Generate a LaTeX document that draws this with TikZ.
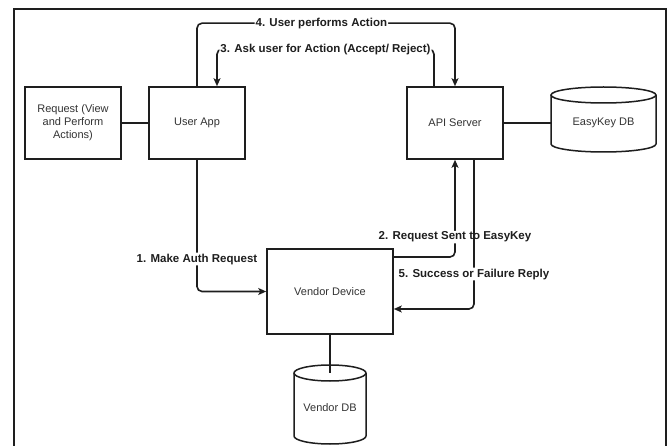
\documentclass[tikz,border=0pt]{standalone}
\usepackage{fontspec}
\setmainfont{Liberation Sans}
\usetikzlibrary{arrows.meta}
\definecolor{linec}{HTML}{1E1E1E}
\definecolor{textc}{HTML}{333333}
\begin{document}
\begin{tikzpicture}[x=1pt,y=-1pt,
  box/.style={draw=linec, line width=1.6pt, fill=white, font=\fontsize{11}{13}\selectfont, text=textc, align=center, inner sep=0pt},
  dbtext/.style={font=\fontsize{11}{13}\selectfont, text=textc, inner sep=0pt},
  dbline/.style={draw=linec, line width=1.5pt, fill=white},
  conn/.style={draw=linec, line width=1.6pt, rounded corners=5pt},
  arr/.style={-{Stealth[length=8pt,width=7pt,inset=2pt]}},
  lbl/.style={fill=white, font=\bfseries\fontsize{11.5}{13}\selectfont, text=linec, inner sep=1pt},
  frame/.style={draw=linec, line width=1.3pt}
]
\useasboundingbox (0,0) rectangle (672,446);
\fill[white] (0,0) rectangle (672,446);
\draw[frame] (14,446) -- (14,9) -- (666,9) -- (666,446);

% boxes
\node[box, minimum width=96pt, minimum height=72pt] (req) at (73,123) {Request (View\\and Perform\\Actions)};
\node[box, minimum width=96pt, minimum height=72pt] (app) at (197,123) {User App};
\node[box, minimum width=96pt, minimum height=72pt] (api) at (455,123) {API Server};
\node[box, minimum width=126pt, minimum height=85pt] (vendor) at (330,291.5) {Vendor Device};

% EasyKey DB cylinder
\draw[dbline] (551,95) -- (551,144) arc[start angle=180,end angle=360,x radius=52.5pt,y radius=8pt] -- (656,95);
\draw[dbline] (603.5,95) ellipse[x radius=52.5pt, y radius=8pt];
\node[dbtext, minimum width=105pt, minimum height=56pt] (ekdb) at (603.5,123) {EasyKey DB};

% Vendor DB cylinder
\draw[dbline] (294,373) -- (294,436) arc[start angle=180,end angle=360,x radius=36pt,y radius=8pt] -- (366,373);
\draw[dbline] (330,373) ellipse[x radius=36pt, y radius=8pt];
\node[dbtext] (vdb) at (330,408) {Vendor DB};
\coordinate (vdbtop) at (330,373);

% plain connectors
\draw[conn] (req.east) -- (app.west);
\draw[conn] (api.east) -- (ekdb.west);
\draw[conn] (vendor.south) -- (vdbtop);

% 4. User performs Action
\draw[conn,arr] (app.north) -- ++(0,-63) -| node[lbl,pos=0.241] {4. User performs Action} (api.north);
% 3. Ask user for Action
\draw[conn,arr] ([xshift=-21pt]api.north) -- ++(0,-37) -| node[lbl,pos=0.25] {3. Ask user for Action (Accept/ Reject)} ([xshift=20pt]app.north);
% 1. Make Auth Request
\draw[conn,arr] (app.south) |- node[lbl,pos=0.377] {1. Make Auth Request} (vendor.west);
% 2. Request Sent to EasyKey
\draw[conn,arr] ([yshift=34.5pt]vendor.east) -| node[lbl,pos=0.602] {2. Request Sent to EasyKey} (api.south);
% 5. Success or Failure Reply
\draw[conn,arr] ([xshift=19pt]api.south) |- node[lbl,pos=0.383] {5. Success or Failure Reply} ([yshift=-17.5pt]vendor.east);
\end{tikzpicture}
\end{document}
